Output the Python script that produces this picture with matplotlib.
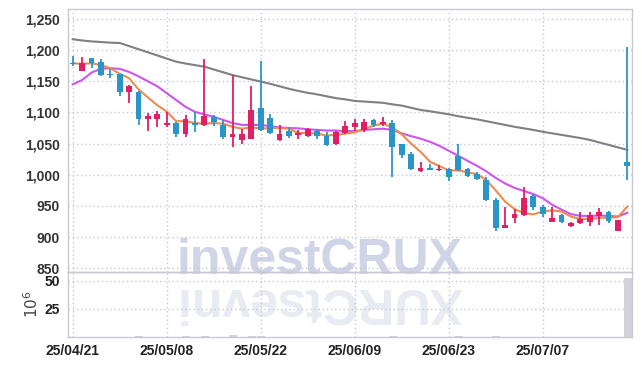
import matplotlib
matplotlib.use("Agg")
import matplotlib.pyplot as plt
import numpy as np

# trading day labels (only every 10th is shown on the axis)
tick_pos = [0, 10, 20, 30, 40, 50]
tick_labels = ["25/04/21", "25/05/08", "25/05/22", "25/06/09", "25/06/23", "25/07/07"]

opens = [1180, 1166, 1187, 1181, 1161, 1161, 1133, 1133, 1090, 1089,
         1080, 1083, 1065, 1083, 1080, 1092, 1080, 1061, 1056, 1058,
         1107, 1091, 1056, 1070, 1064, 1063, 1070, 1062, 1049, 1067,
         1077, 1072, 1088, 1081, 1083, 1049, 1033, 1006, 1011, 1008,
         1009, 1030, 1009, 1002, 991, 960, 915, 931, 936, 966,
         949, 925, 935, 918, 922, 925, 934, 940, 910, 1020]
highs = [1191, 1189, 1188, 1186, 1170, 1162, 1144, 1134, 1099, 1103,
         1100, 1084, 1096, 1101, 1186, 1096, 1088, 1160, 1073, 1142,
         1183, 1097, 1080, 1076, 1072, 1075, 1073, 1069, 1071, 1086,
         1089, 1089, 1089, 1092, 1088, 1050, 1037, 1021, 1018, 1015,
         1011, 1049, 1011, 1004, 997, 963, 949, 945, 980, 969,
         951, 949, 937, 925, 940, 941, 947, 942, 928, 1205]
lows = [1174, 1166, 1171, 1159, 1155, 1127, 1115, 1080, 1071, 1076,
        1076, 1060, 1060, 1069, 1078, 1078, 1057, 1044, 1049, 1057,
        1070, 1065, 1055, 1059, 1057, 1060, 1057, 1046, 1048, 1066,
        1071, 1069, 1076, 1078, 996, 1027, 1007, 1005, 1007, 1006,
        990, 1006, 997, 992, 958, 909, 914, 923, 934, 943,
        933, 924, 922, 916, 921, 918, 919, 922, 909, 992]
closes = [1177, 1179, 1180, 1160, 1160, 1133, 1143, 1090, 1094, 1097,
          1083, 1065, 1089, 1080, 1094, 1085, 1061, 1066, 1065, 1104,
          1072, 1067, 1065, 1062, 1067, 1073, 1063, 1048, 1069, 1078,
          1083, 1085, 1080, 1085, 1045, 1032, 1009, 1011, 1008, 1010,
          997, 1007, 998, 994, 959, 915, 919, 937, 962, 949,
          937, 931, 925, 923, 929, 936, 940, 926, 927, 1014]

ma5 = [1179, 1178, 1179, 1176, 1171, 1162, 1155, 1137, 1124, 1111.5,
       1101.5, 1086, 1086, 1083, 1082, 1083, 1082, 1077, 1074, 1076,
       1074, 1075, 1075, 1074, 1067, 1067, 1066, 1063, 1064, 1066,
       1068, 1073, 1079, 1082, 1076, 1065, 1050, 1037, 1021, 1014,
       1007, 1007, 1004, 1001, 991.5, 975, 957, 945, 938.5, 936.5,
       941, 943, 941, 933, 929, 929, 931, 931, 932, 949]
ma20 = [1145, 1152, 1164, 1170, 1171, 1170, 1165, 1158, 1150, 1142,
        1131, 1120, 1109, 1101, 1097, 1093, 1088, 1083, 1080, 1080,
        1080, 1078, 1076, 1075, 1074.5, 1073, 1072, 1071, 1071, 1070,
        1070, 1072, 1073, 1074, 1072, 1066.5, 1062, 1058, 1053, 1046.5,
        1038.5, 1030.5, 1022.5, 1014.5, 1005.5, 995, 986, 979, 974, 969,
        962.5, 952, 944, 937, 934, 934, 934.5, 934, 933, 939]
ma60 = [1217.5, 1215.5, 1214, 1213, 1212, 1211.5, 1206.5, 1201.5, 1196.5, 1191.5,
        1186.5, 1181.5, 1178.5, 1176, 1173.5, 1169, 1164.5, 1160, 1156.5, 1153,
        1149.5, 1146, 1142, 1138, 1134.5, 1131.5, 1129, 1126, 1123, 1121,
        1118.5, 1117.5, 1116.5, 1115.5, 1113, 1111, 1107.5, 1104, 1102, 1099.5,
        1097, 1094, 1091.5, 1089, 1086, 1083, 1080, 1077, 1074.5, 1072,
        1069, 1066.5, 1064, 1061.5, 1059, 1056, 1052, 1048, 1044, 1040]

# volume in millions of shares
volume = [0.3, 0.2, 0.2, 0.3, 0.2, 0.4, 0.3, 0.5, 0.3, 0.2,
          0.3, 0.4, 0.5, 0.4, 1.3, 0.4, 0.3, 2.2, 0.4, 1.0,
          1.2, 0.4, 0.3, 0.2, 0.2, 0.3, 0.2, 0.3, 0.3, 0.3,
          0.2, 0.3, 0.2, 0.2, 0.6, 0.3, 0.4, 0.2, 0.2, 0.2,
          0.3, 1.0, 0.3, 0.2, 0.4, 0.6, 0.3, 0.3, 0.4, 0.3,
          0.2, 0.2, 0.2, 0.2, 0.2, 0.2, 0.2, 0.2, 0.3, 53.0]

up_col = "#e21e64"
down_col = "#2a96c8"
grid_col = "#c4c8d8"
lab_font = ["Liberation Sans", "DejaVu Sans"]

x = np.arange(len(closes))
o = np.array(opens, dtype=float)
c = np.array(closes, dtype=float)
cols = [up_col if cc >= oo else down_col for oo, cc in zip(o, c)]

fig = plt.figure(figsize=(6.42, 3.66), dpi=100)
ax = fig.add_axes([68/642, 1-272/366, 564/642, 263/366])
axv = fig.add_axes([68/642, 1-337/366, 564/642, 65/366], sharex=ax)
axv.set_facecolor("none")

# watermark + its reflection
ax.text(0.497, 1-274/366, "investCRUX", transform=fig.transFigure, ha="center", va="baseline",
        fontsize=36, fontweight="bold", family=lab_font, color="#cfd5e6", zorder=0.5, clip_on=False)
axv.text(0.497, 1-278/366, "XURCtsevni", transform=fig.transFigure, ha="center", va="top",
         rotation=180, fontsize=36, fontweight="bold", family=lab_font, color="#e9ebf2", zorder=0.5)

# candles
ax.vlines(x, lows, highs, colors=cols, linewidth=1.3, zorder=3)
ax.bar(x, np.maximum(np.abs(c-o), 1.2), bottom=np.minimum(o, c), width=0.62, color=cols, zorder=4)

ax.plot(x, ma60, color="#808080", linewidth=1.5, zorder=2)
ax.plot(x, ma20, color="#cc55ee", linewidth=1.5, zorder=2.5)
ax.plot(x, ma5, color="#ef8a50", linewidth=1.5, zorder=2.6)

ax.set_xlim(-0.5, 59.5)
ax.set_ylim(844, 1266)
ax.set_yticks(np.arange(850, 1251, 50))
ax.set_yticklabels(["{:,}".format(v) for v in range(850, 1251, 50)])
ax.grid(True, color=grid_col, linestyle=(0, (1, 2)), linewidth=1)
ax.set_axisbelow(True)
ax.tick_params(axis="both", length=0, labelsize=10, labelcolor="#333333", pad=6)
ax.tick_params(axis="x", labelbottom=False)
for lab in ax.get_yticklabels():
    lab.set_family(lab_font)
    lab.set_fontweight("bold")

# volume
axv.bar(x, volume, width=0.8, color="#d2d2d8", edgecolor="#c8c8d0", linewidth=0.5, zorder=3)
axv.set_ylim(0, 58)
axv.set_yticks([25, 50])
axv.set_yticklabels(["25", "50"])
axv.set_xticks(tick_pos)
axv.set_xticklabels(tick_labels)
axv.grid(True, color=grid_col, linestyle=(0, (1, 2)), linewidth=1)
axv.set_axisbelow(True)
axv.tick_params(axis="y", length=0, labelsize=10, labelcolor="#222222", pad=6)
axv.tick_params(axis="x", length=0, labelsize=10, labelcolor="#222222", pad=5)
axv.set_ylabel(r"$10^6$", fontsize=11, color="#444444", labelpad=2)
for lab in axv.get_yticklabels() + axv.get_xticklabels():
    lab.set_family(lab_font)
    lab.set_fontweight("bold")

for a in (ax, axv):
    for s in a.spines.values():
        s.set_color("#c8c8d2")
        s.set_linewidth(1)

fig.savefig("out.png", dpi=100)
